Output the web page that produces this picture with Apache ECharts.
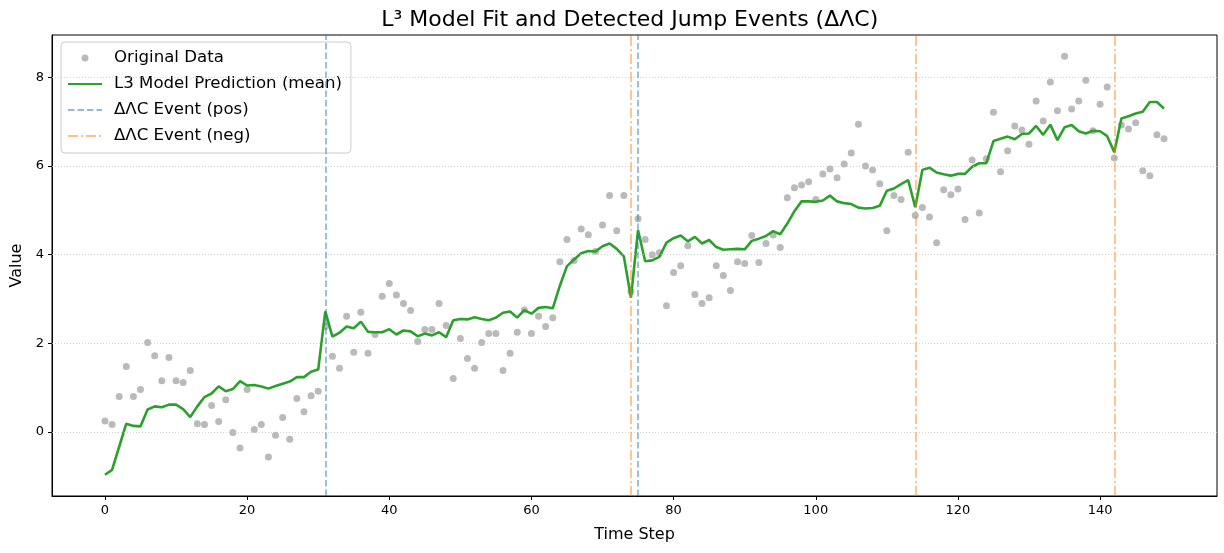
<!DOCTYPE html>
<html>
<head>
<meta charset="utf-8">
<script src="https://cdn.jsdelivr.net/npm/echarts@6/dist/echarts.min.js"></script>
<style>html,body{margin:0;padding:0;background:#fff}#c{width:1224px;height:553px}</style>
</head>
<body>
<div id="c"></div>
<script>
const timeSteps = Array.from({length:150}, (_, i) => i);
const originalData = [
0.25,0.17,0.80,1.48,0.80,0.96,2.02,1.72,1.16,1.68,
1.16,1.12,1.39,0.19,0.17,0.60,0.24,0.73,-0.01,-0.36,
0.96,0.06,0.17,-0.56,-0.07,0.33,-0.16,0.76,0.46,0.82,
0.92,2.38,1.71,1.44,2.61,1.80,2.70,1.78,2.20,3.06,
3.35,3.09,2.90,2.74,2.04,2.31,2.31,2.90,2.40,1.21,
2.11,1.66,1.44,2.02,2.22,2.22,1.39,1.78,2.25,2.75,
2.22,2.61,2.38,2.58,3.84,4.34,3.87,4.58,4.45,4.07,
4.67,5.33,4.54,5.33,3.17,4.81,4.34,4.00,4.04,2.85,
3.60,3.75,4.20,3.10,2.90,3.03,3.75,3.53,3.19,3.84,
3.80,4.43,3.82,4.25,4.44,4.16,5.28,5.51,5.57,5.64,
5.24,5.82,5.93,5.73,6.04,6.29,6.94,6.00,5.91,5.60,
4.54,5.33,5.24,6.31,4.88,5.06,4.85,4.27,5.46,5.35,
5.48,4.79,6.13,4.94,6.16,7.21,5.87,6.34,6.90,6.81,
6.49,7.46,7.01,7.89,7.24,8.47,7.28,7.46,7.93,6.79,
7.39,7.78,6.18,6.92,6.83,6.97,5.89,5.78,6.70,6.61
];
const modelMean = [
-0.96,-0.85,-0.33,0.19,0.14,0.13,0.51,0.58,0.56,0.62,
0.62,0.52,0.34,0.58,0.79,0.87,1.03,0.92,0.97,1.15,
1.05,1.06,1.03,0.98,1.04,1.09,1.14,1.24,1.24,1.36,
1.41,2.72,2.15,2.24,2.38,2.34,2.49,2.26,2.25,2.25,
2.32,2.20,2.29,2.27,2.16,2.22,2.18,2.25,2.14,2.52,
2.55,2.54,2.59,2.55,2.52,2.58,2.69,2.72,2.58,2.75,
2.67,2.80,2.82,2.79,3.30,3.74,3.89,4.03,4.08,4.07,
4.19,4.25,4.13,3.96,3.03,4.55,3.85,3.87,3.95,4.27,
4.37,4.43,4.30,4.40,4.25,4.33,4.17,4.11,4.12,4.13,
4.12,4.31,4.36,4.42,4.53,4.46,4.70,4.98,5.20,5.20,
5.19,5.22,5.33,5.20,5.16,5.14,5.06,5.04,5.05,5.10,
5.44,5.49,5.59,5.68,5.07,5.91,5.96,5.85,5.81,5.78,
5.82,5.82,5.98,6.06,6.06,6.56,6.61,6.66,6.60,6.72,
6.73,6.90,6.70,6.93,6.58,6.87,6.92,6.78,6.73,6.79,
6.78,6.67,6.31,7.07,7.12,7.18,7.22,7.44,7.44,7.29
];
const posEvents = [31, 75];
const negEvents = [74, 114, 142];
const xTicks = [0, 20, 40, 60, 80, 100, 120, 140];
const yTicks = [0, 2, 4, 6, 8];

const FONT = 'DejaVu Sans';
const posColor = 'rgba(31,119,180,0.5)';
const negColor = 'rgba(255,127,14,0.5)';
const posDash = [6.5, 3];
const negDash = [10, 3, 2, 3];
const hiddenSymbol = {opacity: 0, color: 'rgba(0,0,0,0)', borderWidth: 0};

const chart = echarts.init(document.getElementById('c'), null, {renderer: 'canvas'});
const option = {
  animation: false,
  backgroundColor: '#fff',
  title: {
    text: 'L³ Model Fit and Detected Jump Events (ΔΛC)',
    left: 624.7, top: 4, textAlign: 'center',
    textStyle: {fontFamily: FONT, fontSize: 22, fontWeight: 'normal', color: '#000'}
  },
  grid: {left: 52, right: 7, top: 35, bottom: 57, show: true, borderColor: '#000', borderWidth: 1, backgroundColor: 'transparent'},
  legend: {
    orient: 'vertical', left: 61, top: 42,
    itemWidth: 34, itemHeight: 7, itemGap: 6,
    padding: [6, 9, 7, 6],
    backgroundColor: 'rgba(255,255,255,0.8)', borderColor: '#cccccc', borderWidth: 1, borderRadius: 4,
    textStyle: {fontFamily: FONT, fontSize: 16.6, color: '#000', lineHeight: 20, padding: [0, 0, 0, 7]},
    data: [
      {name: 'Original Data'},
      {name: 'L3 Model Prediction (mean)', itemStyle: hiddenSymbol},
      {name: 'ΔΛC Event (pos)', itemStyle: hiddenSymbol},
      {name: 'ΔΛC Event (neg)', itemStyle: hiddenSymbol}
    ]
  },
  xAxis: {
    type: 'value', min: -7.45, max: 156.45,
    name: 'Time Step', nameLocation: 'middle', nameGap: 31,
    nameTextStyle: {fontFamily: FONT, fontSize: 16, color: '#000'},
    axisLine: {show: true, onZero: false, lineStyle: {color: '#000', width: 1}},
    axisTick: {show: true, length: 4, lineStyle: {color: '#000'}, customValues: xTicks},
    axisLabel: {fontFamily: FONT, fontSize: 13, color: '#000', margin: 8, customValues: xTicks},
    splitLine: {show: false}
  },
  yAxis: {
    type: 'value', min: -1.44, max: 8.95,
    name: 'Value', nameLocation: 'middle', nameGap: 27, nameRotate: 90,
    nameTextStyle: {fontFamily: FONT, fontSize: 16, color: '#000'},
    axisLine: {show: true, onZero: false, lineStyle: {color: '#000', width: 1}},
    axisTick: {show: true, length: 4, lineStyle: {color: '#000'}, customValues: yTicks},
    axisLabel: {fontFamily: FONT, fontSize: 13, color: '#000', margin: 8, customValues: yTicks},
    splitLine: {show: false}
  },
  series: [
    {
      name: 'grid', type: 'line', data: [], silent: true, z: 0,
      markLine: {
        silent: true, symbol: ['none', 'none'], label: {show: false},
        lineStyle: {color: '#c8c8c8', width: 0.8, type: [1, 2]},
        data: yTicks.map(v => ({yAxis: v}))
      }
    },
    {
      name: 'Original Data', type: 'scatter', z: 2,
      symbol: 'circle', symbolSize: 7,
      itemStyle: {color: 'rgba(128,128,128,0.68)'},
      data: timeSteps.map((t, i) => [t, originalData[i]])
    },
    {
      name: 'L3 Model Prediction (mean)', type: 'line', z: 3,
      symbol: 'none', showSymbol: false,
      lineStyle: {color: '#2ca02c', width: 2.6},
      itemStyle: {color: '#2ca02c'},
      data: timeSteps.map((t, i) => [t, modelMean[i]])
    },
    {
      name: 'ΔΛC Event (pos)', type: 'line', data: [], z: 4,
      symbol: 'none',
      lineStyle: {color: posColor, width: 1.8, type: posDash},
      itemStyle: {color: posColor},
      markLine: {
        silent: true, symbol: ['none', 'none'], label: {show: false},
        lineStyle: {color: posColor, width: 1.8, type: posDash},
        data: posEvents.map(v => ({xAxis: v}))
      }
    },
    {
      name: 'ΔΛC Event (neg)', type: 'line', data: [], z: 4,
      symbol: 'none',
      lineStyle: {color: negColor, width: 1.8, type: negDash},
      itemStyle: {color: negColor},
      markLine: {
        silent: true, symbol: ['none', 'none'], label: {show: false},
        lineStyle: {color: negColor, width: 1.8, type: negDash},
        data: negEvents.map(v => ({xAxis: v}))
      }
    }
  ]
};
chart.setOption(option);
</script>
</body>
</html>
